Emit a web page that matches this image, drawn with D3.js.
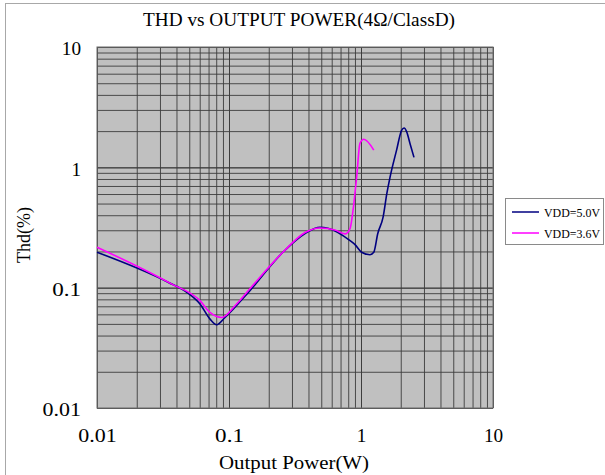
<!DOCTYPE html>
<html><head><meta charset="utf-8">
<script src="https://cdn.jsdelivr.net/npm/d3@7"></script>
<style>body{margin:0;background:#fff;overflow:hidden}</style>
</head><body><svg id="c" width="605" height="475"></svg>
<script>
const chartTitle = "THD vs OUTPUT POWER(4Ω/ClassD)";
const xTitle = "Output Power(W)";
const yTitle = "Thd(%)";
const powerTicks = [0.01, 0.1, 1, 10];
const powerTickLabels = ["0.01", "0.1", "1", "10"];
const thdTicks = [0.01, 0.1, 1, 10];
const thdTickLabels = ["0.01", "0.1", "1", "10"];
const seriesNames = ["VDD=5.0V", "VDD=3.6V"];
const seriesColors = ["#000080", "#ff00ff"];

const vdd50Power = [0.01, 0.0345, 0.0479, 0.0603, 0.0718, 0.0807, 0.0933, 0.144, 0.256, 0.377, 0.489, 0.562, 0.826, 0.901, 1.01, 1.17, 1.25, 1.34, 1.47, 1.57, 1.66, 1.86, 2.03, 2.12, 2.22, 2.35, 2.52];
const vdd50Thd   = [0.197, 0.111, 0.0914, 0.0731, 0.0548, 0.0492, 0.0565, 0.0944, 0.197, 0.282, 0.318, 0.312, 0.246, 0.228, 0.197, 0.188, 0.197, 0.282, 0.385, 0.607, 0.83, 1.39, 2.03, 2.12, 1.97, 1.58, 1.21];
const vdd36Power = [0.01, 0.0357, 0.0603, 0.0718, 0.0881, 0.111, 0.144, 0.256, 0.377, 0.489, 0.635, 0.757, 0.826, 0.87, 0.927, 0.982, 1.05, 1.25];
const vdd36Thd   = [0.217, 0.109, 0.078, 0.0623, 0.0565, 0.0708, 0.098, 0.197, 0.287, 0.313, 0.301, 0.28, 0.31, 0.438, 0.83, 1.58, 1.71, 1.39];

const svg = d3.select("#c");
const L = 97, R = 493, T = 47, B = 408;
const x = d3.scaleLog().domain([0.01, 10]).range([L, R]);
const y = d3.scaleLog().domain([0.01, 10]).range([B, T]);
const FONT = "'Liberation Serif', serif";

// outer frame
svg.append("rect").attr("x", 5.5).attr("y", 3.5).attr("width", 700).attr("height", 600)
  .attr("fill", "none").attr("stroke", "#a8a8a8");

// plot background
svg.append("rect").attr("x", L).attr("y", T).attr("width", R - L).attr("height", B - T)
  .attr("fill", "#c0c0c0");

// grid values
const gridVals = [];
[0.01, 0.1, 1].forEach(d => { for (let k = 1; k <= 10; k++) gridVals.push(+(k * d).toPrecision(3)); });

const gx = svg.append("g").attr("transform", `translate(0,${B})`)
  .call(d3.axisBottom(x).tickValues(gridVals).tickSize(-(B - T)).tickFormat(""));
const gy = svg.append("g").attr("transform", `translate(${L},0)`)
  .call(d3.axisLeft(y).tickValues(gridVals).tickSize(-(R - L)).tickFormat(""));
[gx, gy].forEach(g => {
  g.select(".domain").remove();
  g.selectAll(".tick line").attr("stroke", "#3c3c3c").attr("stroke-width", 0.9);
});

// plot border
svg.append("rect").attr("x", L).attr("y", T).attr("width", R - L).attr("height", B - T)
  .attr("fill", "none").attr("stroke", "#6a6a6a").attr("stroke-width", 1);

// tick labels
const lx = svg.append("g").attr("transform", `translate(0,${B})`)
  .call(d3.axisBottom(x).tickValues(powerTicks).tickSize(0).tickPadding(21)
    .tickFormat((d, i) => powerTickLabels[i]));
const ly = svg.append("g").attr("transform", `translate(${L},0)`)
  .call(d3.axisLeft(y).tickValues(thdTicks).tickSize(0).tickPadding(16)
    .tickFormat((d, i) => thdTickLabels[i]));
[lx, ly].forEach(g => {
  g.select(".domain").remove();
  g.selectAll("text").attr("font-family", FONT).attr("font-size", 19).attr("fill", "#000")
    .attr("textLength", function () { return this.textContent.length * 9.6; })
    .attr("lengthAdjust", "spacingAndGlyphs");
});
ly.selectAll("text").attr("dy", "0.42em");

// curves
const line = d3.line().x(d => x(d[0])).y(d => y(d[1])).curve(d3.curveMonotoneX);
const s50 = vdd50Power.map((p, i) => [p, vdd50Thd[i]]);
const s36 = vdd36Power.map((p, i) => [p, vdd36Thd[i]]);
[s50, s36].forEach((s, i) => {
  svg.append("path").datum(s).attr("d", line).attr("fill", "none")
    .attr("stroke", seriesColors[i]).attr("stroke-width", 1.6).attr("stroke-linejoin", "round");
});

// title
svg.append("text").attr("x", 299).attr("y", 26).attr("text-anchor", "middle")
  .attr("font-family", FONT).attr("font-size", 19).attr("textLength", 312)
  .attr("lengthAdjust", "spacingAndGlyphs").text(chartTitle);
// x title
svg.append("text").attr("x", 294).attr("y", 469).attr("text-anchor", "middle")
  .attr("font-family", FONT).attr("font-size", 19).attr("textLength", 150)
  .attr("lengthAdjust", "spacingAndGlyphs").text(xTitle);
// y title
svg.append("text").attr("transform", "translate(30,235) rotate(-90)").attr("text-anchor", "middle")
  .attr("font-family", FONT).attr("font-size", 19).attr("textLength", 56)
  .attr("lengthAdjust", "spacingAndGlyphs").text(yTitle);

// legend
const lg = svg.append("g");
lg.append("rect").attr("x", 505.5).attr("y", 198.5).attr("width", 98).attr("height", 46)
  .attr("fill", "#fff").attr("stroke", "#8a8a8a");
seriesNames.forEach((n, i) => {
  const yy = 212 + i * 21;
  lg.append("line").attr("x1", 512).attr("x2", 539).attr("y1", yy).attr("y2", yy)
    .attr("stroke", seriesColors[i]).attr("stroke-width", 1.5);
  lg.append("text").attr("x", 544).attr("y", yy).attr("dy", "0.36em")
    .attr("font-family", FONT).attr("font-size", 13).attr("textLength", 56)
    .attr("lengthAdjust", "spacingAndGlyphs").text(n);
});
</script></body></html>
